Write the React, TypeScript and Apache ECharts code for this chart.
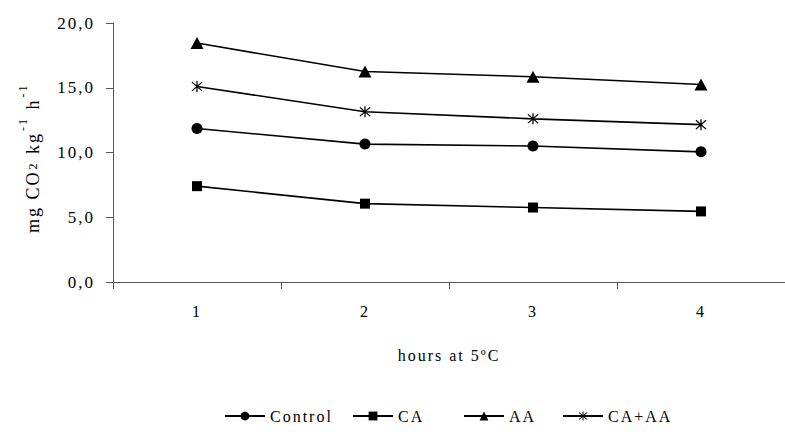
import React, { useEffect, useRef } from "react";
import * as echarts from "echarts";

const hours = ["1", "2", "3", "4"];
const control = [11.85, 10.65, 10.5, 10.05];
const ca = [7.4, 6.05, 5.75, 5.45];
const aa = [18.45, 16.25, 15.85, 15.25];
const caaa = [15.1, 13.15, 12.6, 12.15];
const yTicks = [0, 5, 10, 15, 20];
const seriesNames = ["Control", "CA", "AA", "CA+AA"];

const STAR =
  "path://M9 0 L11 0 L11 20 L9 20 Z M1.3 2.7 L2.7 1.3 L18.7 17.3 L17.3 18.7 Z M17.3 1.3 L18.7 2.7 L2.7 18.7 L1.3 17.3 Z";

const FONT = "Times New Roman, Liberation Serif, serif";

export default function App() {
  const ref = useRef<HTMLDivElement>(null);
  useEffect(() => {
    if (!ref.current) return;
    const chart = echarts.init(ref.current, undefined, { renderer: "svg" });
    const mk = (name: string, data: number[], symbol: string, size: any) => ({
      name,
      type: "line",
      data,
      symbol,
      symbolSize: size,
      showAllSymbol: true,
      lineStyle: { color: "#000", width: 1.6 },
      itemStyle: { color: "#000", borderColor: "#000", borderWidth: 0 },
      emphasis: { disabled: true },
    });
    const legendLefts = [219, 347, 458, 557];
    const legends = seriesNames.map((n, i) => ({
      data: [n],
      left: legendLefts[i],
      top: 403,
      itemWidth: 40,
      itemHeight: 11,
      itemGap: 0,
      selectedMode: false,
      textStyle: { fontFamily: FONT, fontSize: 16, color: "#000" },
    }));
    const txt = (s: string, x: number, y: number, size: number) => ({
      type: "text",
      x,
      y,
      style: {
        text: s,
        fontFamily: FONT,
        fontSize: size,
        fill: "#000000",
        textAlign: "left",
        verticalAlign: "alphabetic",
      },
    });
    chart.setOption({
      animation: false,
      backgroundColor: "#fff",
      textStyle: { fontFamily: FONT, color: "#000" },
      grid: { left: 113, top: 23, width: 684, height: 259 },
      xAxis: {
        type: "category",
        data: hours,
        boundaryGap: true,
        axisLine: { lineStyle: { color: "#555", width: 1 } },
        axisTick: { show: true, length: 7, inside: false, lineStyle: { color: "#555" } },
        axisLabel: { fontFamily: FONT, fontSize: 16, color: "#000", margin: 21 },
        name: "hours at 5ºC",
        nameLocation: "middle",
        nameGap: 65,
        nameTextStyle: { fontFamily: FONT, fontSize: 16, color: "#000" },
      },
      yAxis: {
        type: "value",
        min: 0,
        max: 20,
        interval: 5,
        splitLine: { show: false },
        axisLine: { show: true, lineStyle: { color: "#555", width: 1 } },
        axisTick: { show: true, length: 7, lineStyle: { color: "#555" } },
        axisLabel: {
          fontFamily: FONT,
          fontSize: 17,
          color: "#000",
          margin: 18,
          formatter: (v: number) =>
            yTicks.includes(v) ? v.toFixed(1).replace(".", ",") : "",
        },
      },
      legend: legends,
      graphic: [
        {
          type: "group",
          x: 24,
          y: 233,
          rotation: Math.PI / 2,
          children: [
            txt("mg CO", 0, 0, 18),
            txt("2", 63.5, 3, 12),
            txt(" kg", 72.5, 0, 18),
            txt("-1", 102, -7, 12),
            txt(" h", 117, 0, 18),
            txt("-1", 135.5, -7, 12),
          ],
        },
      ],
      series: [
        mk("Control", control, "circle", 11),
        mk("CA", ca, "rect", 10),
        mk("AA", aa, "triangle", [13, 12]),
        mk("CA+AA", caaa, STAR, 11),
      ],
    });
    return () => chart.dispose();
  }, []);
  return (
    <>
      <style>{`.chartbox svg text { letter-spacing: 2px; }`}</style>
      <div
        ref={ref}
        className="chartbox"
        style={{ position: "fixed", left: 0, top: 0, width: 785, height: 434, background: "#fff" }}
      />
    </>
  );
}
